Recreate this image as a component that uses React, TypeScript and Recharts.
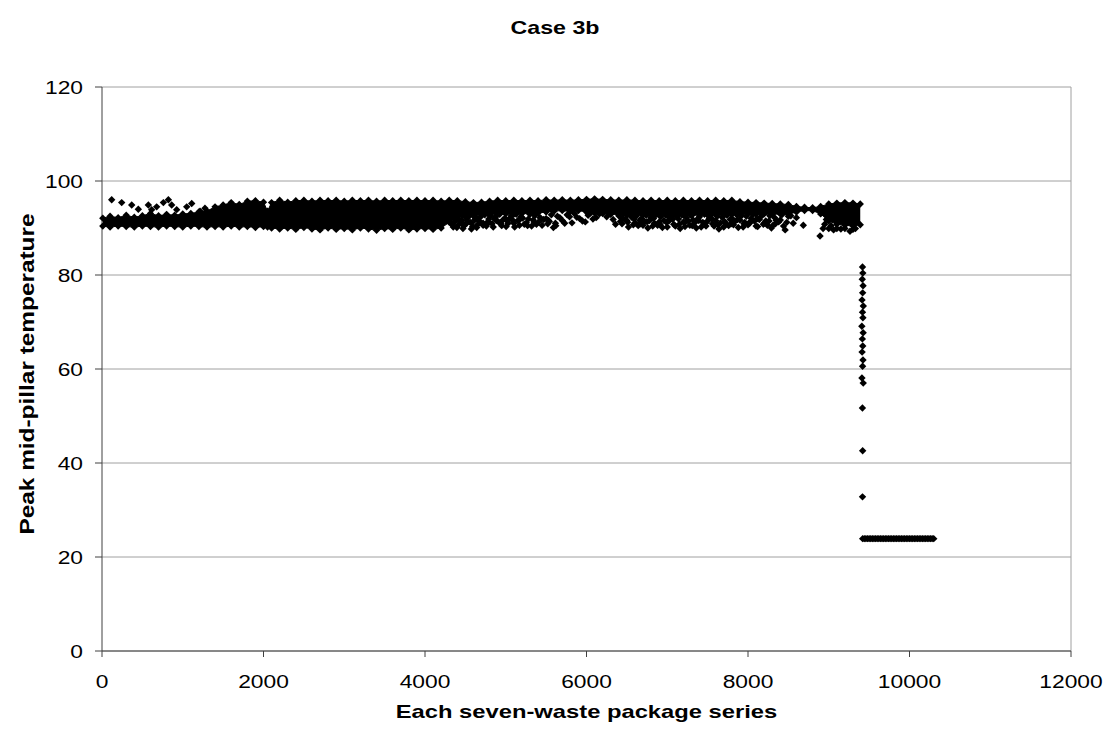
import React from "react";
import { ComposedChart, Area, Scatter, XAxis, YAxis, CartesianGrid, ReferenceLine } from "recharts";

const FONT = "'Liberation Sans', Arial, sans-serif";

const xTicks = [0, 2000, 4000, 6000, 8000, 10000, 12000];
const yTicks = [0, 20, 40, 60, 80, 100, 120];

// ── dense part of the cloud: x, lower edge, upper edge ──────────────────────
const bandX = [
  10, 100, 200, 300, 400, 500, 600, 700, 800, 900, 1000, 1100, 1200, 1300, 1400, 1500, 1600, 1700, 1800, 1900, 2000,
  2050, 2100, 2200, 2300, 2400, 2500, 2600, 2700, 2800, 2900, 3000, 3100, 3200, 3300, 3400, 3500, 3600, 3700, 3800,
  3900, 4000, 4100, 4200, 4300, 4400, 4500, 4600, 4700, 4800, 4900, 5000, 5100, 5200, 5300, 5400, 5500, 5600, 5700,
  5800, 5900, 6000, 6100, 6200, 6300, 6400, 6500, 6600, 6700, 6800, 6900, 7000, 7100, 7200, 7300, 7400, 7500, 7600,
  7700, 7800, 7900, 8000, 8100, 8200, 8300, 8400, 8500, 8600, 8700, 8800, 8900, 9000, 9100, 9200, 9300, 9390,
];
const bandHigh = [
  92.1, 92.5, 92.2, 92.7, 92.3, 92.6, 93.1, 92.6, 92.9, 92.7, 93.0, 93.1, 93.4, 93.6, 94.5, 94.9, 95.4, 95.0, 95.7, 95.8, 95.5,
  93.6, 95.4, 95.9, 95.5, 95.8, 95.9, 95.7, 95.9, 95.8, 95.9, 95.7, 95.9, 95.8, 95.9, 95.7, 95.9, 95.8, 95.9, 95.8,
  95.9, 95.8, 95.9, 95.7, 95.9, 95.8, 95.6, 95.4, 95.5, 95.7, 95.9, 95.8, 95.9, 95.8, 95.9, 95.8, 96.0, 95.9, 96.0,
  95.9, 96.0, 96.1, 96.2, 96.1, 96.0, 95.9, 96.0, 95.9, 95.8, 95.9, 95.8, 95.9, 95.8, 95.9, 95.8, 95.9, 95.8, 95.9,
  95.8, 95.9, 95.6, 95.5, 95.4, 95.3, 95.2, 95.1, 95.0, 94.6, 94.4, 94.3, 94.6, 95.1, 95.3, 95.4, 95.3, 95.1,
];
const bandLow = [
  90.4, 90.2, 90.4, 90.3, 90.2, 90.4, 90.3, 90.2, 90.4, 90.3, 90.2, 90.4, 90.3, 90.2, 90.3, 90.2, 90.4, 90.2, 90.3, 90.1, 90.3,
  90.2, 90.0, 89.8, 90.0, 89.7, 90.1, 89.8, 89.6, 90.0, 89.7, 89.9, 89.6, 90.0, 89.8, 89.5, 89.9, 89.7, 90.0, 89.6,
  89.8, 89.9, 89.7, 90.0, 91.2, 92.0, 92.4, 92.6, 92.8, 92.7, 92.9, 93.0, 92.9, 93.1, 93.0, 93.2, 93.4, 93.6, 93.7,
  93.5, 93.7, 93.4, 93.2, 93.1, 92.9, 92.9, 92.7, 92.8, 92.7, 92.6, 92.7, 92.6, 92.8, 92.7, 92.6, 92.8, 92.7, 92.8,
  92.7, 92.9, 92.8, 93.0, 92.9, 93.0, 92.9, 93.0, 92.9, 93.4, 93.7, 93.7, 93.0, 91.5, 90.8, 90.6, 90.4, 90.7,
];

// ── loose points around the dense part ──────────────────────────────────────
const looseX = [
  120, 244, 368, 450, 574, 615, 677, 760, 822, 863, 925, 1049, 1111, 1214, 1275,
  4320, 4350, 4380, 4410, 4440, 4470, 4500, 4530, 4560, 4590, 4620, 4650, 4690, 4720, 4760, 4790, 4830, 4870, 4910,
  4950, 4990, 5030, 5070, 5110, 5150, 5190, 5230, 5280, 5320, 5360, 5400, 5450, 5500, 5540, 5590, 5640, 5700, 5760,
  5820, 5880, 5950, 6020, 6080, 6160, 6250, 6330, 6400, 6440, 6480, 6520, 6560, 6600, 6640, 6680, 6720, 6760, 6800,
  6840, 6880, 6920, 6960, 7000, 7040, 7080, 7120, 7160, 7200, 7240, 7280, 7320, 7360, 7400, 7440, 7480, 7520, 7560,
  7600, 7640, 7680, 7720, 7760, 7800, 7840, 7880, 7920, 7960, 8000, 8040, 8080, 8120, 8160, 8200, 8240, 8290, 8330,
  8380, 8460, 8500, 8560, 8685, 8892, 8950, 9000, 9060, 9150, 9263, 9330,
];
const looseY = [
  96.0, 95.4, 94.9, 94.0, 94.9, 93.9, 94.5, 95.4, 96.0, 94.9, 93.9, 94.5, 95.2, 93.6, 94.2,
  91.0, 90.2, 92.0, 90.6, 91.4, 89.9, 90.8, 92.2, 91.2, 90.3, 91.8, 90.7, 92.4, 91.0, 90.4, 91.9, 90.9, 92.3, 91.3,
  90.5, 92.1, 91.0, 92.6, 90.2, 91.6, 92.4, 90.8, 91.9, 90.4, 92.6, 91.2, 90.6, 92.0, 91.4, 90.1, 92.5, 91.6, 92.8,
  91.1, 92.3, 91.5, 92.7, 91.9, 93.0, 92.4, 91.8, 92.6, 90.9, 91.8, 90.2, 92.3, 91.1, 90.5, 92.0, 91.4, 90.0, 92.2,
  91.0, 90.6, 92.4, 91.6, 90.2, 91.9, 90.8, 92.5, 89.9, 91.3, 92.2, 90.6, 91.7, 90.0, 92.4, 91.2, 90.4, 92.0, 90.9,
  91.6, 89.8, 92.3, 91.0, 90.5, 92.1, 91.4, 90.1, 92.6, 91.2, 90.7, 92.0, 91.5, 90.3, 92.4, 91.0, 90.6, 90.0, 92.2,
  91.3, 89.6, 92.5, 91.0, 90.6, 88.3, 90.8, 89.9, 89.6, 89.8, 89.3, 89.9,
];

// second and third pass over the speckled lower half (x 4300 – 9300)
const speckX = [
  4330, 4365, 4395, 4425, 4455, 4485, 4515, 4545, 4575, 4605, 4640, 4670, 4705, 4740, 4775, 4810, 4845, 4885, 4925,
  4965, 5005, 5045, 5090, 5130, 5170, 5210, 5255, 5300, 5340, 5380, 5425, 5470, 5520, 5565, 5615, 5670, 5730, 5790,
  5850, 5915, 5985, 6050, 6120, 6290, 6360, 6420, 6460, 6500, 6540, 6580, 6620, 6660, 6700, 6740, 6780, 6820, 6860,
  6900, 6940, 6980, 7020, 7060, 7100, 7140, 7180, 7220, 7260, 7300, 7340, 7380, 7420, 7460, 7500, 7540, 7580, 7620,
  7660, 7700, 7740, 7780, 7820, 7860, 7900, 7940, 7980, 8020, 8060, 8100, 8140, 8180, 8220, 8270, 8310, 8350, 8420,
  8440, 8530, 8600, 8930, 8970, 9030, 9100, 9200, 9300,
  4340, 4400, 4460, 4520, 4580, 4650, 4720, 4790, 4860, 4940, 5020, 5100, 5180, 5270, 5350, 5440, 5530, 5620, 6440,
  6510, 6590, 6670, 6750, 6830, 6910, 6990, 7070, 7150, 7230, 7310, 7390, 7470, 7550, 7630, 7710, 7790, 7870, 7950,
  8030, 8110, 8190, 8260, 8340, 8400, 8480,
];
const speckY = [
  92.6, 91.3, 90.1, 92.9, 91.7, 90.5, 91.0, 92.7, 89.8, 92.5, 90.1, 91.5, 90.9, 92.8, 91.3, 92.6, 90.2, 91.6, 92.9,
  91.7, 90.3, 92.0, 91.6, 92.9, 90.6, 92.1, 91.1, 92.9, 91.7, 90.8, 92.2, 91.8, 90.9, 92.8, 91.0, 92.2, 91.0, 92.4,
  93.1, 92.0, 91.3, 93.2, 92.2, 93.0, 90.8, 91.4, 93.0, 91.6, 92.8, 90.7, 92.6, 91.6, 90.6, 92.7, 91.6, 90.4, 92.8,
  91.3, 90.1, 92.8, 91.5, 92.6, 90.4, 91.9, 92.8, 90.3, 91.5, 92.8, 91.1, 92.0, 90.2, 92.9, 91.5, 92.7, 90.4, 92.5,
  91.1, 90.2, 92.7, 91.8, 90.7, 92.8, 91.7, 90.2, 92.5, 91.0, 92.8, 90.4, 91.8, 92.9, 91.5, 92.6, 90.6, 91.6, 92.8,
  90.4, 92.6, 92.2, 89.9, 91.8, 90.5, 89.9, 89.9, 89.7,
  90.7, 91.9, 90.9, 91.6, 91.1, 92.0, 90.6, 91.2, 91.9, 90.9, 91.5, 91.0, 91.9, 90.5, 91.3, 91.9, 91.6, 90.5, 92.0,
  91.2, 91.9, 90.9, 91.3, 92.0, 90.8, 91.2, 91.9, 90.8, 91.4, 90.5, 91.6, 91.0, 92.0, 90.7, 91.4, 90.9, 91.8, 90.9,
  91.4, 91.9, 90.8, 91.5, 90.9, 91.7, 91.2,
];

// ── the drop near 9400 ──────────────────────────────────────────────────────
const dropX = [9418, 9422, 9415, 9425, 9420, 9412, 9428, 9418, 9423, 9410, 9426, 9416, 9421, 9413, 9424, 9419, 9411, 9427, 9417, 9420, 9418];
const dropY = [81.7, 80.4, 79.1, 77.7, 76.2, 74.7, 73.4, 72.1, 70.9, 69.1, 67.7, 66.4, 64.9, 63.6, 61.9, 60.6, 58.1, 57.0, 51.7, 42.6, 32.8];

// ── flat tail ───────────────────────────────────────────────────────────────
const flatX = [
  9420, 9440, 9460, 9480, 9500, 9520, 9540, 9560, 9580, 9600, 9620, 9640, 9660, 9680, 9700, 9720, 9740, 9760, 9780,
  9800, 9820, 9840, 9860, 9880, 9900, 9920, 9940, 9960, 9980, 10000, 10020, 10040, 10060, 10080, 10100, 10120, 10140,
  10160, 10180, 10200, 10220, 10240, 10260, 10280, 10300,
];
const FLAT_Y = 23.9;

const bandData = bandX.map((x, i) => ({ x, range: [bandLow[i], bandHigh[i]] }));
const edgeData = [
  ...bandX.map((x, i) => ({ x, y: bandHigh[i] })),
  ...bandX.map((x, i) => ({ x, y: bandLow[i] })),
];
const looseData = [
  ...looseX.map((x, i) => ({ x, y: looseY[i] })),
  ...speckX.map((x, i) => ({ x, y: speckY[i] })),
];
const dropData = dropX.map((x, i) => ({ x, y: dropY[i] }));
const flatData = flatX.map((x) => ({ x, y: FLAT_Y }));

// Excel-style square diamond marker
const Diamond = (p: any) => {
  const { cx, cy } = p;
  if (cx == null || cy == null) return null;
  const r = 3.7;
  return <path d={`M${cx},${cy - r}L${cx + r},${cy}L${cx},${cy + r}L${cx - r},${cy}Z`} fill="#000" />;
};

const XTick = (p: any) => (
  <g transform={`translate(${p.x},${p.y})`}>
    <text transform="scale(1.2,1)" textAnchor="middle" dy="0.71em" fontSize={19} fontFamily={FONT} fill="#000">
      {p.payload.value}
    </text>
  </g>
);

const YTick = (p: any) => (
  <g transform={`translate(${p.x},${p.y})`}>
    <text transform="scale(1.2,1)" textAnchor="end" dy="0.355em" fontSize={19} fontFamily={FONT} fill="#000">
      {p.payload.value}
    </text>
  </g>
);

const titleStyle: React.CSSProperties = {
  position: "absolute", fontFamily: FONT, fontWeight: 700, color: "#000", textAlign: "center",
  whiteSpace: "nowrap", lineHeight: "22px", height: 22,
};

export default function App() {
  return (
    <div style={{ position: "absolute", left: 0, top: 0, width: 1110, height: 738, background: "#fff" }}>
      <ComposedChart width={1110} height={738} data={bandData} margin={{ top: 87, right: 39, bottom: 57, left: 42 }}>
        <CartesianGrid vertical={false} stroke="#a0a0a0" />
        <XAxis
          type="number" dataKey="x" domain={[0, 12000]} ticks={xTicks} height={30}
          axisLine={{ stroke: "#404040" }} tickLine={{ stroke: "#404040" }} tickSize={6} tickMargin={18}
          tick={<XTick />} interval={0}
        />
        <YAxis
          type="number" domain={[0, 120]} ticks={yTicks} width={60}
          axisLine={{ stroke: "#404040" }} tickLine={{ stroke: "#404040" }} tickSize={7} tickMargin={12}
          tick={<YTick />} interval={0}
        />
        <ReferenceLine x={12000} stroke="#a0a0a0" />
        <Area type="linear" dataKey="range" fill="#000" fillOpacity={1} stroke="#000" strokeWidth={1} dot={false} activeDot={false} isAnimationActive={false} />
        <Scatter data={edgeData} dataKey="y" shape={<Diamond />} isAnimationActive={false} />
        <Scatter data={looseData} dataKey="y" shape={<Diamond />} isAnimationActive={false} />
        <Scatter data={dropData} dataKey="y" shape={<Diamond />} isAnimationActive={false} />
        <Scatter data={flatData} dataKey="y" shape={<Diamond />} isAnimationActive={false} />
      </ComposedChart>

      <div style={{ ...titleStyle, left: 0, width: 1110, top: 17, fontSize: 19, transform: "scaleX(1.22)" }}>Case 3b</div>
      <div style={{ ...titleStyle, left: 102, width: 969, top: 701, fontSize: 19, transform: "scaleX(1.25)" }}>
        Each seven-waste package series
      </div>
      <div style={{ ...titleStyle, left: 27 - 200, width: 400, top: 374 - 11, fontSize: 19.5, transform: "rotate(-90deg) scaleX(1.25)" }}>
        Peak mid-pillar temperature
      </div>
    </div>
  );
}
